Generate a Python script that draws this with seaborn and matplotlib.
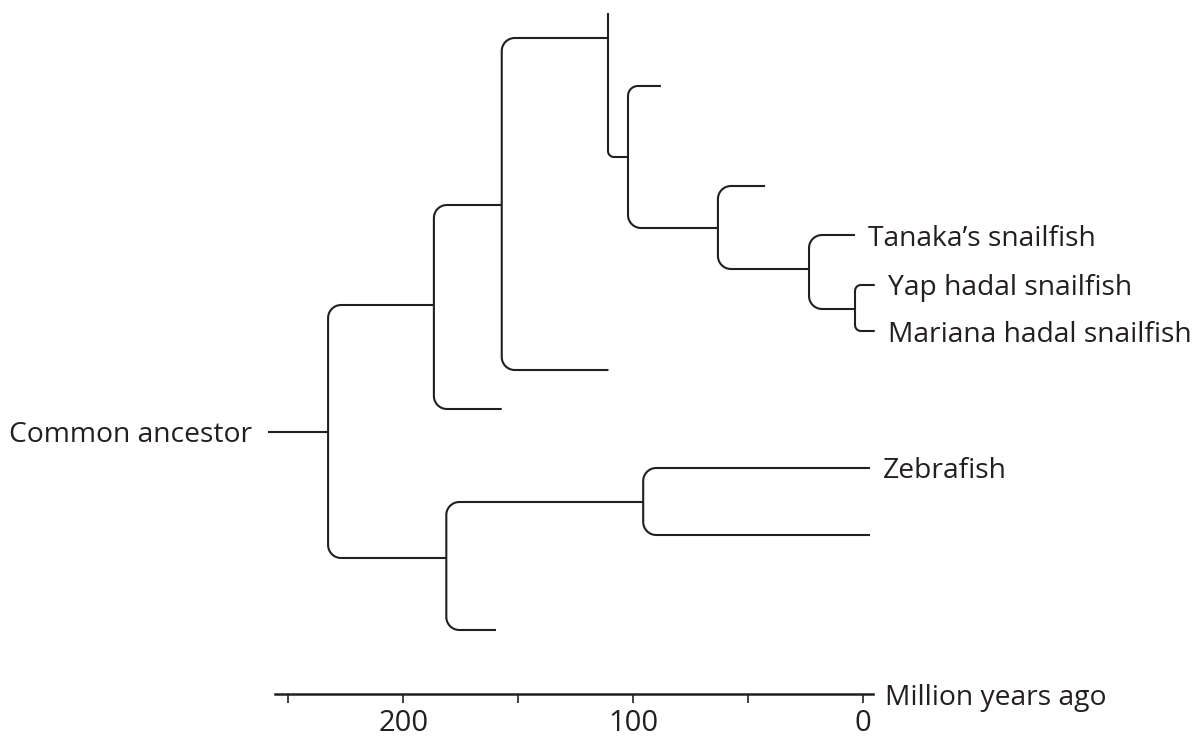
import numpy as np
import pandas as pd
import matplotlib.pyplot as plt
import seaborn as sns

# tree nodes: name, parent, age (million years ago), row (vertical slot, top = 0)
node_names = ["root", "A", "B", "C", "A_leaf", "D", "C_leaf", "D_up", "E", "E_leaf",
              "F", "F_leaf", "G", "Tanaka", "H", "Yap", "Mariana", "Z", "Zebrafish",
              "Z_leaf", "B_leaf"]
node_parents = [None, "root", "root", "A", "A", "C", "C", "D", "D", "E",
                "E", "F", "F", "G", "G", "H", "H", "B", "Z",
                "Z", "B"]
node_ages = [232.7, 186.7, 181.3, 157.2, 157.2, 111.0, 110.8, 111.0, 102.3, 88.0,
             63.2, 42.7, 23.6, 3.6, 3.6, -5.0, -5.0, 95.7, -2.9,
             -2.9, 159.7]
node_rows = [432, 305, 558, 205, 409, 38, 370, 13, 157, 86,
             228, 186, 269, 235, 309, 285, 331, 502, 468,
             535, 630]
root_stem_age = 258.8

leaf_labels = {"Tanaka": "Tanaka\u2019s snailfish",
               "Yap": "Yap hadal snailfish",
               "Mariana": "Mariana hadal snailfish",
               "Zebrafish": "Zebrafish"}
root_label = "Common ancestor"
axis_label = "Million years ago"
major_ticks = [0, 100, 200]
minor_ticks = [50, 150, 250]
axis_range = (-4.2, 255.8)

PX_PER_MYA = 2.3
INK = "#231f20"


def elbow(pa, pr, ca, cr):
    # vertical from parent then rounded turn to the right, then horizontal
    hlen = (pa - ca) * PX_PER_MYA
    vlen = abs(cr - pr)
    r = min(13.0, 0.3 * hlen, vlen)
    if r <= 0.5:
        return [pa, pa, ca], [pr, cr, cr]
    sgn = 1 if cr > pr else -1
    th = np.linspace(0, np.pi / 2, 12)
    xs = [pa] + list(pa - r * (1 - np.cos(th)) / PX_PER_MYA) + [ca]
    ys = [pr] + list(cr - sgn * r * (1 - np.sin(th))) + [cr]
    return xs, ys


nodes = {n: (a, r) for n, a, r in zip(node_names, node_ages, node_rows)}
records = []
for i, (name, parent) in enumerate(zip(node_names, node_parents)):
    ca, cr = nodes[name]
    if parent is None:
        xs, ys = [root_stem_age, ca], [cr, cr]
    else:
        pa, pr = nodes[parent]
        xs, ys = elbow(pa, pr, ca, cr)
    for x, y in zip(xs, ys):
        records.append({"edge": i, "age": x, "row": y})
df = pd.DataFrame(records)

sns.set_theme(style="white")
plt.rcParams["font.family"] = ["Open Sans", "DejaVu Sans"]

fig = plt.figure(figsize=(11.97, 7.38), dpi=100)
ax = fig.add_axes([0, 0, 1, 1])
sns.lineplot(data=df, x="age", y="row", units="edge", estimator=None, sort=False,
             color=INK, linewidth=1.5, solid_capstyle="butt", ax=ax)

ax.set_xlim(863.3 / PX_PER_MYA, (863.3 - 1197) / PX_PER_MYA)
ax.set_ylim(738, 0)
ax.set_xlabel("")
ax.set_ylabel("")

fs = 20.3
for key, text in leaf_labels.items():
    a, r = nodes[key]
    ax.text(a - 13 / PX_PER_MYA, r, text, fontsize=fs, color=INK,
            ha="left", va="center_baseline")
ax.text(root_stem_age + 16 / PX_PER_MYA, nodes["root"][1], root_label, fontsize=fs,
        color=INK, ha="right", va="center_baseline")

# time axis
axis_row = 694
for s in ["left", "top", "right"]:
    ax.spines[s].set_visible(False)
ax.spines["bottom"].set_position(("data", axis_row))
ax.spines["bottom"].set_bounds(*axis_range)
ax.spines["bottom"].set_color(INK)
ax.spines["bottom"].set_linewidth(1.8)
ax.set_yticks([])
ax.set_xticks(major_ticks)
ax.set_xticklabels([str(t) for t in major_ticks], fontsize=21, color=INK)
ax.set_xticks(minor_ticks, minor=True)
ax.tick_params(axis="x", which="both", direction="out", length=6.5, width=1.2,
               color=INK, pad=4.5, bottom=True)
ax.text(axis_range[0] - 12 / PX_PER_MYA, axis_row, axis_label, fontsize=fs,
        color=INK, ha="left", va="center_baseline")

fig.savefig("out.png", dpi=100)
